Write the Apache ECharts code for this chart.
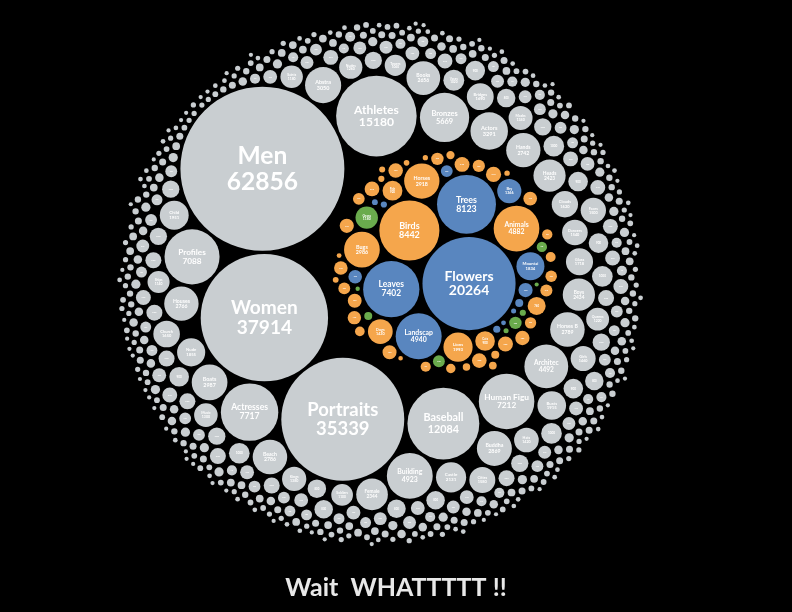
<!DOCTYPE html>
<html>
<head>
<meta charset="utf-8">
<script src="https://cdn.jsdelivr.net/npm/echarts/dist/echarts.min.js"></script>
<style>
html, body { margin: 0; padding: 0; background: #000; }
#main { width: 792px; height: 612px; }
</style>
</head>
<body>
<div id="main"></div>
<script>
// ---- data (small ones estimated) ----
// grey subjects, in the order they are packed round the middle cluster
var grayNames = ['Women', 'Men', 'Portraits', 'Baseball', 'Athletes', 'Actresses', 'Human Figu', 'Profiles',
    'Bronzes', 'Building', 'Architec', 'Actors', 'Abstra', 'Boats', 'Buddha', 'Horses B', 'Beach', 'Houses',
    'Hands', 'Books', 'Boys', 'Heads', 'Female', 'Castle', 'Child', 'Busts', 'Nude', 'Glass', 'Bridges',
    'Church', 'Clouds', 'Cities', 'Dancers', 'Faces', 'Girls', 'Hats', 'Kings', 'Masks', 'Music', 'Nudes',
    'Queens', 'Saints', 'Ships', 'Soldiers', 'Towers', 'Vases'];
var grayValues = [37914, 62856, 35339, 12084, 15180, 7717, 7212, 7088,
    5669, 4923, 4492, 3291, 3050, 2987, 2869, 2789, 2786, 2766,
    2742, 2656, 2434, 2423, 2344, 2131, 1951, 1915, 1855, 1718, 1690,
    1650, 1620, 1580, 1540, 1500, 1460, 1420, 1380, 1340, 1300, 1260,
    1220, 1180, 1140, 1100, 1060, 1020];

// the many small grey bubbles of the outer rings: value and how many of that size
var tailValues = [1000, 900, 800, 700, 600, 520, 450, 390, 330, 280, 240, 200, 170, 140, 115, 95, 78, 64, 52, 42];
var tailCounts = [4, 5, 6, 7, 8, 9, 10, 11, 12, 14, 16, 20, 24, 28, 34, 38, 42, 44, 46, 46];

var blueNames = ['Flowers', 'Trees', 'Leaves', 'Landscap', 'Mountai', 'Sky'];
var blueValues = [20264, 8123, 7402, 4940, 1834, 1366, 470, 430, 330, 150, 120, 90, 80, 60, 55];

var greenNames = ['Grass'];
var greenValues = [1180, 360, 330, 250, 150, 90, 60, 45, 40];

var orangeNames = ['Birds', 'Animals', 'Bugs', 'Horses', 'Lions', 'Dogs', 'Fish', 'Cats'];
var orangeValues = [8442, 4882, 2986, 2918, 1993, 1430, 920, 900, 760, 540, 530, 520, 510, 500, 490, 480,
    470, 460, 450, 440, 430, 420, 360, 350, 340, 330, 320, 310, 300, 250, 240, 230, 220, 210,
    160, 150, 140, 130, 90, 85, 80, 75, 70, 65, 55, 50];

var titleText = 'Wait  WHATTTTT !!';

var colors = { gray: '#c9ced1', blue: '#5986bf', green: '#6aab4d', orange: '#f5a64c' };

// ---- circle packing (front-chain, as in d3.packSiblings) ----
var PAD = 5;        // gap, in sqrt(value) units
var K_PX = 0.327;   // pixels per sqrt(value) unit
var CX = 381, CY = 283;

function place(b, a, c) {
    var dx = b.x - a.x, x, a2, dy = b.y - a.y, y, b2, d2 = dx * dx + dy * dy;
    if (d2) {
        a2 = a.r + c.r; a2 *= a2;
        b2 = b.r + c.r; b2 *= b2;
        if (a2 > b2) {
            x = (d2 + b2 - a2) / (2 * d2);
            y = Math.sqrt(Math.max(0, b2 / d2 - x * x));
            c.x = b.x - x * dx - y * dy;
            c.y = b.y - x * dy + y * dx;
        } else {
            x = (d2 + a2 - b2) / (2 * d2);
            y = Math.sqrt(Math.max(0, a2 / d2 - x * x));
            c.x = a.x + x * dx - y * dy;
            c.y = a.y + x * dy + y * dx;
        }
    } else {
        c.x = a.x + c.r;
        c.y = a.y;
    }
}
function intersects(a, b) {
    var dr = a.r + b.r - 1e-6, dx = b.x - a.x, dy = b.y - a.y;
    return dr > 0 && dr * dr > dx * dx + dy * dy;
}
function score(node) {
    var a = node._, b = node.next._, ab = a.r + b.r,
        dx = (a.x * b.r + b.x * a.r) / ab, dy = (a.y * b.r + b.y * a.r) / ab;
    return dx * dx + dy * dy;
}
function Node(circle) { this._ = circle; this.next = null; this.previous = null; }

function enclose(circles) {
    var cx = 0, cy = 0, i, j, n = circles.length;
    for (i = 0; i < n; i++) { cx += circles[i].x; cy += circles[i].y; }
    cx /= n; cy /= n;
    for (j = 0; j < 1500; j++) {
        var best = -1, bi = 0;
        for (i = 0; i < n; i++) {
            var d = Math.hypot(circles[i].x - cx, circles[i].y - cy) + circles[i].r;
            if (d > best) { best = d; bi = i; }
        }
        var f = circles[bi], ddx = f.x - cx, ddy = f.y - cy, l = Math.hypot(ddx, ddy) || 1;
        var px = f.x + ddx / l * f.r, py = f.y + ddy / l * f.r;
        cx += (px - cx) / (j + 2);
        cy += (py - cy) / (j + 2);
    }
    var r = 0;
    for (i = 0; i < n; i++) r = Math.max(r, Math.hypot(circles[i].x - cx, circles[i].y - cy) + circles[i].r);
    return { x: cx, y: cy, r: r };
}

function packSiblings(circles) {
    var n = circles.length, a, b, c, aa, ca, i, j, k, sj, sk;
    a = circles[0]; a.x = 0; a.y = 0;
    if (n === 1) return a.r;
    b = circles[1]; a.x = -b.r; b.x = a.r; b.y = 0;
    if (n > 2) {
        place(b, a, c = circles[2]);
        a = new Node(a); b = new Node(b); c = new Node(c);
        a.next = c.previous = b;
        b.next = a.previous = c;
        c.next = b.previous = a;
        pack: for (i = 3; i < n; ++i) {
            place(a._, b._, c = circles[i]); c = new Node(c);
            j = b.next; k = a.previous; sj = b._.r; sk = a._.r;
            do {
                if (sj <= sk) {
                    if (intersects(j._, c._)) { b = j; a.next = b; b.previous = a; --i; continue pack; }
                    sj += j._.r; j = j.next;
                } else {
                    if (intersects(k._, c._)) { a = k; a.next = b; b.previous = a; --i; continue pack; }
                    sk += k._.r; k = k.previous;
                }
            } while (j !== k.next);
            c.previous = a; c.next = b; a.next = b.previous = b = c;
            aa = score(a);
            while ((c = c.next) !== b) {
                if ((ca = score(c)) < aa) { a = c; aa = ca; }
            }
            b = a.next;
        }
    }
    var e = enclose(circles);
    for (i = 0; i < n; i++) { circles[i].x -= e.x; circles[i].y -= e.y; }
    return e.r;
}

function packWithPad(list) {
    list.forEach(function (d) { d.r += PAD; });
    var e = packSiblings(list);
    list.forEach(function (d) { d.r -= PAD; });
    return e;
}

// ---- build the hierarchy ----
function makeLeaves(names, values, kind) {
    return values.map(function (v, i) {
        return { name: names[i] || '', value: v, kind: kind, r: Math.sqrt(v) };
    });
}
var natureAll = [].concat(
    makeLeaves(blueNames, blueValues, 'blue'),
    makeLeaves(greenNames, greenValues, 'green'),
    makeLeaves(orangeNames, orangeValues, 'orange'));
// the larger subjects of every colour go in first, then the small blue, green and orange ones
var nature = natureAll.filter(function (d) { return d.value >= 900; })
    .sort(function (p, q) { return q.value - p.value; })
    .concat(natureAll.filter(function (d) { return d.value < 900; }));
var natureR = packWithPad(nature) + PAD;
var natureSum = nature.reduce(function (s, d) { return s + d.value; }, 0);
var group = { name: '', value: natureSum, kind: 'group', r: natureR };

var grays = makeLeaves(grayNames, grayValues, 'gray');
tailValues.forEach(function (v, i) {
    for (var t = 0; t < tailCounts[i]; t++) grays.push({ name: '', value: v, kind: 'gray', r: Math.sqrt(v) });
});
var topNodes = [group].concat(grays);
packWithPad(topNodes);

// absolute positions for the nature leaves
nature.forEach(function (d) { d.x += group.x; d.y += group.y; });

// orientation: Men on the upper left of the blue/orange/green cluster, Women below Men
var women = grays[0], men = grays[1];
var all = grays.concat(nature);
var vx = group.x - men.x, vy = group.y - men.y, wx = women.x - men.x, wy = women.y - men.y;
if (vx * wy - vy * wx < 0) {
    all.forEach(function (d) { d.y = -d.y; });
    group.y = -group.y; vy = -vy;
}
function rotateAll(list, cx, cy, ang) {
    var cs = Math.cos(ang), sn = Math.sin(ang);
    list.forEach(function (d) {
        var x = d.x - cx, y = d.y - cy;
        d.x = cx + x * cs - y * sn;
        d.y = cy + x * sn + y * cs;
    });
}
var rot = 28 * Math.PI / 180 - Math.atan2(vy, vx);
rotateAll(all, 0, 0, rot);
rotateAll([group], 0, 0, rot);
// inside the cluster, Flowers sits to the lower right
var fl = nature[0];
rotateAll(nature, group.x, group.y, 36 * Math.PI / 180 - Math.atan2(fl.y - group.y, fl.x - group.x));

// layout units -> pixels of the drawing
var R_PX = 280;
var nodes = all.map(function (d) {
    var label = d.name ? d.name + '\n' + d.value : String(d.value);
    return { x: d.x * K_PX, y: d.y * K_PX, r: d.r * K_PX, kind: d.kind, label: label };
});

var chart = echarts.init(document.getElementById('main'));
chart.setOption({
    backgroundColor: '#000',
    animation: false,
    title: {
        text: titleText,
        left: 'center',
        top: 570,
        textStyle: { color: '#e8e8e8', fontSize: 25, fontWeight: 'bold', fontFamily: 'Lato' }
    },
    grid: { left: CX - R_PX, top: CY - R_PX, width: 2 * R_PX, height: 2 * R_PX },
    xAxis: { type: 'value', min: -R_PX, max: R_PX, show: false },
    yAxis: { type: 'value', min: -R_PX, max: R_PX, inverse: true, show: false },
    series: [{
        type: 'custom',
        silent: true,
        clip: false,
        data: nodes.map(function (n) { return [n.x, n.y, n.r]; }),
        renderItem: function (params, api) {
            var c = api.coord([api.value(0), api.value(1)]);
            var r = Math.abs(api.size([api.value(2), 0])[0]);
            var n = nodes[params.dataIndex];
            var kids = [{
                type: 'circle',
                shape: { cx: c[0], cy: c[1], r: r },
                style: { fill: colors[n.kind] }
            }];
            if (r >= 5) {
                var fs = r * 0.3;
                kids.push({
                    type: 'text',
                    style: {
                        x: c[0], y: c[1], text: n.label, fill: '#fff',
                        fontSize: fs, lineHeight: fs * 1.05, fontWeight: 'bold', fontFamily: 'Lato',
                        align: 'center', verticalAlign: 'middle'
                    }
                });
            }
            return { type: 'group', children: kids };
        }
    }]
});
</script>
</body>
</html>
